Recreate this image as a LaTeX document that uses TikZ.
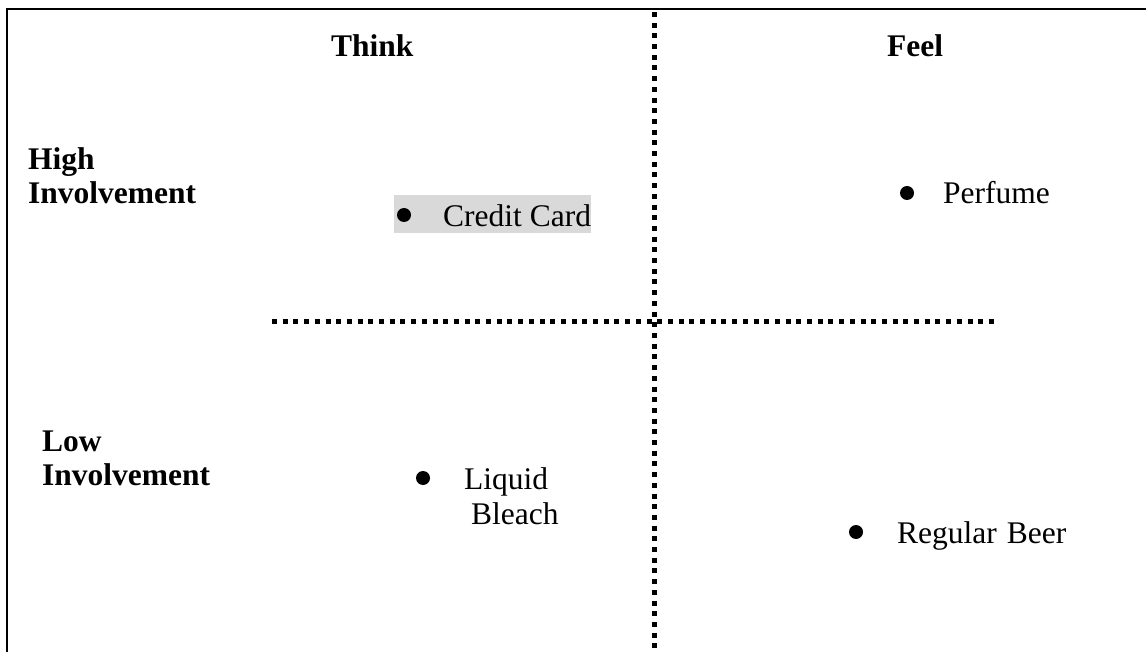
\documentclass[tikz,border=0pt]{standalone}
\usepackage{fontspec}
\setmainfont{Liberation Serif}
\begin{document}
\begin{tikzpicture}[x=1pt,y=-1pt,
  lbl/.style={inner sep=0pt, anchor=base west, font=\fontsize{31.5}{35}\selectfont},
  head/.style={lbl, font=\fontsize{31.5}{35}\selectfont\bfseries},
  dot/.style={circle, fill=black, inner sep=0pt, minimum size=14pt},
  frame/.style={line width=2.5pt, black},
  divider/.style={line width=5pt, dash pattern=on 5pt off 5.7pt, black}]
\useasboundingbox (0,0) rectangle (1146,652);
% frame
\coordinate (fbl) at (7,652);
\coordinate (ftl) at (7,9);
\coordinate (ftr) at (1146,9);
\draw[frame] (fbl) -- (ftl) -- (ftr);
% dividers
\coordinate (vt) at (654,12);
\coordinate (vb) at (654,652);
\coordinate (hl) at (272,322);
\coordinate (hr) at (998,322);
\draw[divider] (vt) -- (vb);
\draw[divider] (hl) -- (hr);
% headers
\node[head] (think) at (331,57) {Think};
\node[head] (feel) at (887,57) {Feel};
\node[head] (high1) at (28,170) {High};
\node[head] (high2) at (28,204) {Involvement};
\node[head] (low1) at (42,451) {Low};
\node[head] (low2) at (42,485) {Involvement};
% credit card
\fill[gray!30] (394,195) rectangle (591,233);
\node[dot] (d1) at (404,215) {};
\node[lbl] (cc) at (443,227) {Credit Card};
% perfume
\node[dot] (d2) at (907,193) {};
\node[lbl] (pf) at (943,204) {Perfume};
% liquid bleach
\node[dot] (d3) at (423,478) {};
\node[lbl] (lq) at (464,489) {Liquid};
\node[lbl] (bl) at (471,524) {Bleach};
% regular beer
\node[dot] (d4) at (856,532) {};
\node[lbl] (rb) at (897,543) {Regular\hspace{10pt}Beer};
\end{tikzpicture}
\end{document}
